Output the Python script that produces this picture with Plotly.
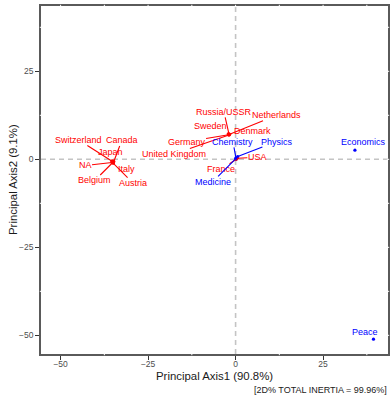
import plotly.graph_objects as go

# ---- data (principal coordinates) ----
row_names = ["Switzerland", "Canada", "Japan", "NA", "Italy", "Belgium", "Austria",
             "Russia/USSR", "Netherlands", "Sweden", "Denmark", "Germany", "United Kingdom",
             "USA", "France"]
row_x = [-35.4, -34.8, -35.1, -35.3, -34.9, -35.1, -35.0,
         -1.9, -1.7, -2.1, -1.8, -2.0, -1.9,
         0.5, 0.2]
row_y = [-0.5, -0.6, -0.4, -0.9, -1.0, -0.9, -1.1,
         7.2, 7.1, 7.2, 7.0, 7.0, 6.9,
         0.3, 0.0]

col_names = ["Chemistry", "Physics", "Medicine", "Economics", "Peace"]
col_x = [0.1, 0.6, 0.0, 34.1, 39.4]
col_y = [0.4, 0.8, 0.1, 2.6, -51.1]

tick_vals = [-50, -25, 0, 25]
x_title = "Principal Axis1 (90.8%)"
y_title = "Principal Axis2 (9.1%)"
caption = "[2D% TOTAL INERTIA = 99.96%]"

# ---- label placement (pixel offsets of label centre from its point; repel-like) ----
label_offsets = {
    "Switzerland": (-33, -21, True), "Canada": (8, -21, True), "Japan": (-2, -9, False),
    "NA": (-27, 3, True), "Italy": (13, 6, False), "Belgium": (-18, 18, True),
    "Austria": (20, 20, True),
    "Russia/USSR": (-5, -22, True), "Netherlands": (47, -19, True), "Sweden": (-18, -8, False),
    "Denmark": (23, -4, False), "Germany": (-42, 7, True), "United Kingdom": (-55, 19, True),
    "USA": (20, -1, True), "France": (-15, 10, True),
    "Chemistry": (-3, -16, True), "Physics": (39, -15, True), "Medicine": (-23, 23, True),
    "Economics": (9, -8, False), "Peace": (-8, -7, False),
}

RED = "#ff0000"
BLUE = "#0000ff"
FONT = "Liberation Sans, Arial, sans-serif"

fig = go.Figure()
fig.add_trace(go.Scatter(x=row_x, y=row_y, mode="markers",
                         marker=dict(color=RED, size=3.2), hoverinfo="skip", showlegend=False))
fig.add_trace(go.Scatter(x=col_x, y=col_y, mode="markers",
                         marker=dict(color=BLUE, size=3.2), hoverinfo="skip", showlegend=False))

annotations = []

def add_labels(names, xs, ys, color):
    for n, x, y in zip(names, xs, ys):
        dx, dy, arrow = label_offsets[n]
        if arrow:
            annotations.append(dict(x=x, y=y, ax=dx, ay=dy, text=n, showarrow=True,
                                    arrowhead=0, arrowwidth=1.1, arrowcolor=color,
                                    standoff=0, startstandoff=0, borderpad=0,
                                    font=dict(color=color, size=9, family=FONT)))
        else:
            annotations.append(dict(x=x, y=y, xshift=dx, yshift=-dy, text=n, showarrow=False,
                                    font=dict(color=color, size=9, family=FONT)))

add_labels(row_names, row_x, row_y, RED)
add_labels(col_names, col_x, col_y, BLUE)

# axis titles and caption
annotations.append(dict(text=x_title, xref="paper", yref="paper", x=0.5, y=0,
                        yshift=-21.5, showarrow=False, yanchor="middle", borderpad=0,
                        font=dict(size=11.4, color="#1a1a1a", family=FONT)))
annotations.append(dict(text=y_title, xref="paper", yref="paper", x=0, y=0.5,
                        xshift=-28, showarrow=False, textangle=-90, xanchor="center",
                        font=dict(size=11.4, color="#1a1a1a", family=FONT)))
annotations.append(dict(text=caption, xref="paper", yref="paper", x=1, y=0,
                        yshift=-35.5, showarrow=False, xanchor="right", yanchor="middle",
                        borderpad=0, font=dict(size=9, color="#1a1a1a", family=FONT)))

shapes = []
# dashed reference lines
shapes.append(dict(type="line", xref="x", yref="paper", x0=0, x1=0, y0=0, y1=1,
                   line=dict(color="#c4c4c4", width=1.6, dash="5px,4px"), layer="below"))
shapes.append(dict(type="line", xref="paper", yref="y", x0=0, x1=1, y0=0, y1=0,
                   line=dict(color="#c4c4c4", width=1.6, dash="5px,4px"), layer="below"))

# white grid lines crossing the panel border (major + minor breaks)
grid_breaks = [-50, -37.5, -25, -12.5, 0, 12.5, 25, 37.5]
for g in grid_breaks:
    major = g in tick_vals
    shapes.append(dict(type="line", xref="x", yref="paper", ysizemode="pixel", yanchor=1,
                       x0=g, x1=g, y0=-1.2, y1=1.2, line=dict(color="white", width=1), layer="above"))
    shapes.append(dict(type="line", xref="paper", yref="y", xsizemode="pixel", xanchor=1,
                       x0=-1.2, x1=1.2, y0=g, y1=g, line=dict(color="white", width=1), layer="above"))
    if not major:
        shapes.append(dict(type="line", xref="x", yref="paper", ysizemode="pixel", yanchor=0,
                           x0=g, x1=g, y0=-1.2, y1=1.2, line=dict(color="white", width=1), layer="above"))
        shapes.append(dict(type="line", xref="paper", yref="y", xsizemode="pixel", xanchor=0,
                           x0=-1.2, x1=1.2, y0=g, y1=g, line=dict(color="white", width=1), layer="above"))

axis_common = dict(showgrid=False, zeroline=False, showline=True, mirror=True,
                   linecolor="#5a5a5a", linewidth=1.8, ticks="outside", ticklen=4,
                   tickwidth=1, tickcolor="#333333", tickvals=tick_vals,
                   tickfont=dict(size=8.5, color="#4d4d4d", family=FONT))

fig.update_layout(
    width=391, height=400,
    margin=dict(l=41, r=1, t=6, b=46),
    plot_bgcolor="white", paper_bgcolor="white",
    xaxis=dict(range=[-55.6, 43.55], ticklabelstandoff=-3, **axis_common),
    yaxis=dict(range=[-55.3, 43.55], **axis_common),
    annotations=annotations, shapes=shapes, showlegend=False,
)

fig.write_html("out.html", config={"displayModeBar": False},
               post_script="document.body.style.margin='0px';document.body.style.overflow='hidden';")
